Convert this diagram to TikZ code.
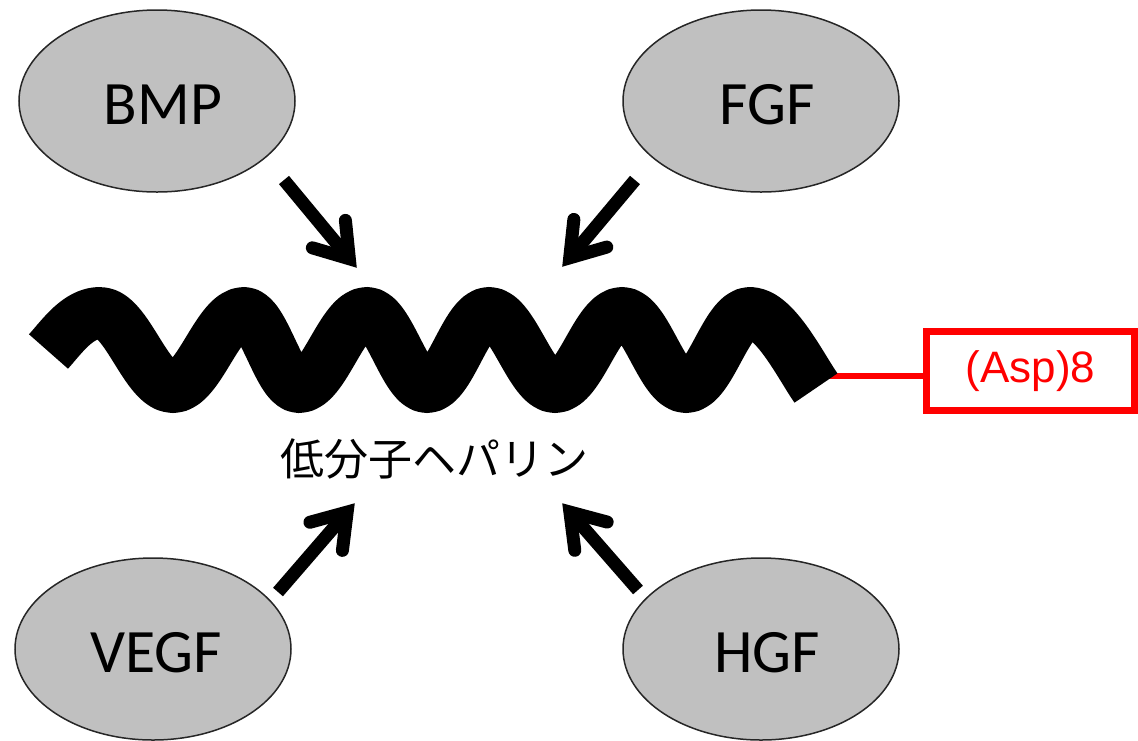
\documentclass[tikz,border=0pt]{standalone}
\usepackage{fontspec}
\setmainfont{Carlito}
\newfontfamily\jpfont{Noto Sans CJK JP}
\newfontfamily\labelfont{Liberation Sans}
\usetikzlibrary{calc,shapes.geometric}

\definecolor{blobfill}{RGB}{192,192,192}
\definecolor{tagred}{RGB}{255,0,0}

\tikzset{
  blob/.style={ellipse, draw=black!85, line width=1.5pt, fill=blobfill,
    minimum width=276pt, minimum height=182pt, inner sep=0pt},
  blobtext/.style={font=\fontsize{61.7}{70}\selectfont, inner sep=0pt},
  arrowshaft/.style={draw=black, line width=13pt, line cap=butt},
  arrowbarb/.style={draw=black, line width=13pt, line cap=round, line join=miter},
  chain/.style={draw=black, line width=52pt, line cap=butt, line join=round},
  tagbox/.style={draw=tagred, line width=7pt, minimum width=208pt, minimum height=79pt,
    inner sep=0pt, text=tagred, font=\labelfont\fontsize{44}{50}\selectfont},
  taglink/.style={draw=tagred, line width=6pt},
  caption/.style={font=\jpfont\fontsize{44}{50}\selectfont, inner sep=0pt}
}

% thick arrow: shaft plus a chevron head with a sharp tip
\newcommand\fatarrow[2]{%
  \draw[arrowshaft] (#1) -- ($(#2)!12pt!(#1)$);
  \draw[arrowbarb] ($(#2)!49pt!26:(#1)$) -- ($(#2)!12pt!(#1)$) -- ($(#2)!49pt!-26:(#1)$);
}

\begin{document}
\begin{tikzpicture}[x=1pt, y=-1pt]
\useasboundingbox (0,0) rectangle (1138,740);

% growth factors
\node[blob] (bmp)  at (157,101) {};
\node[blob] (fgf)  at (761,101) {};
\node[blob] (vegf) at (153,649) {};
\node[blob] (hgf)  at (761,649) {};
\node[blobtext] (bmptext)  at ([shift={(6,4)}]bmp.center)  {BMP};
\node[blobtext] (fgftext)  at ([shift={(6,4)}]fgf.center)  {FGF};
\node[blobtext] (vegftext) at ([shift={(3,4)}]vegf.center) {VEGF};
\node[blobtext] (hgftext)  at ([shift={(6,4)}]hgf.center)  {HGF};

% tag attached to the chain end
\node[tagbox] (asp) at (1030.5,371) {(Asp)8};
\coordinate (link) at (820,376);
\draw[taglink] (link) -- (link -| asp.west);

% heparin chain
\draw[chain] (48.5,351.5) .. controls (61.9,336.6) and (78,313) .. (100,313)
  .. controls (127,313) and (146,387) .. (173,387)
  .. controls (199,387) and (218,313) .. (244,313)
  .. controls (264,313) and (279,387) .. (299,387)
  .. controls (324,387) and (342,313) .. (367,313)
  .. controls (389,313) and (405,387) .. (427,387)
  .. controls (450,387) and (466,313) .. (489,313)
  .. controls (513,313) and (531,387) .. (555,387)
  .. controls (580,387) and (597,313) .. (622,313)
  .. controls (646,313) and (662,387) .. (686,387)
  .. controls (710,387) and (726,313) .. (750,313)
  .. controls (775,313) and (801.5,367.7) .. (816,388);

\node[caption] (heparin) at (434,459) {低分子ヘパリン};

% binding arrows
\coordinate (bmpfrom)  at (284,180);
\coordinate (bmpto)    at (357,268);
\coordinate (fgffrom)  at (635,180);
\coordinate (fgfto)    at (562,267);
\coordinate (vegffrom) at (278,592);
\coordinate (vegfto)   at (355,503);
\coordinate (hgffrom)  at (638,590);
\coordinate (hgfto)    at (562,503);
\fatarrow{bmpfrom}{bmpto}
\fatarrow{fgffrom}{fgfto}
\fatarrow{vegffrom}{vegfto}
\fatarrow{hgffrom}{hgfto}
\end{tikzpicture}
\end{document}
